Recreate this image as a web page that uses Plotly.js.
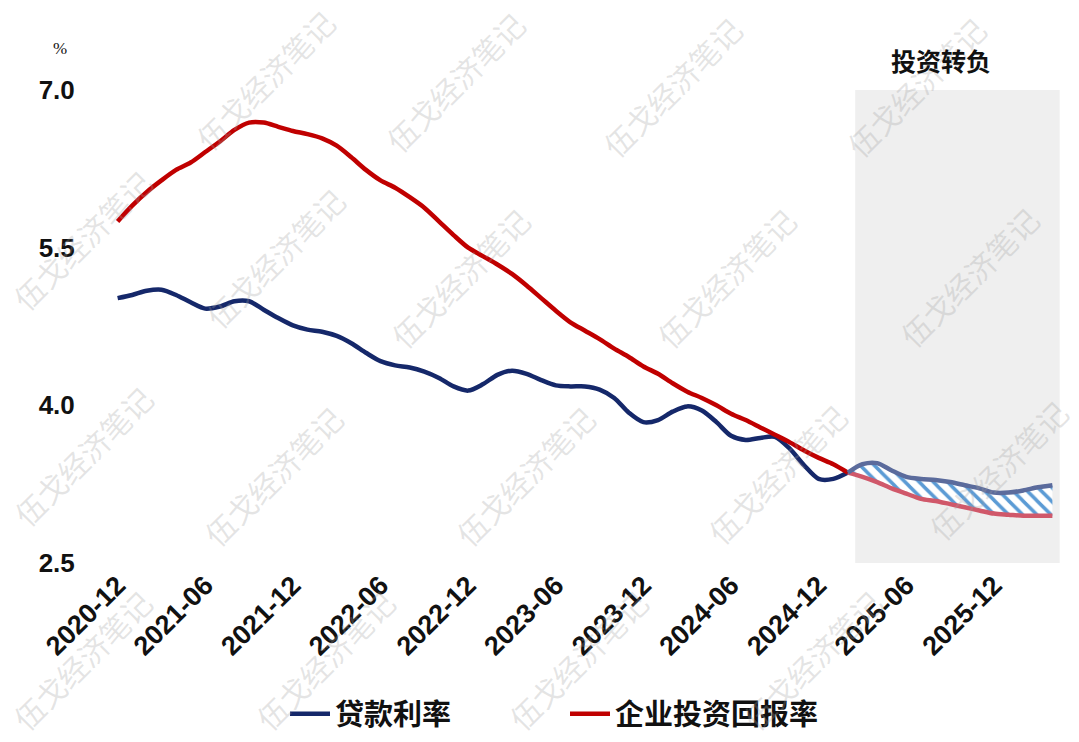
<!DOCTYPE html>
<html>
<head>
<meta charset="utf-8">
<script src="https://cdn.plot.ly/plotly-3.0.1.min.js"></script>
<style>
  html, body { margin: 0; padding: 0; background: #ffffff; }
  #chart { width: 1079px; height: 742px; }
</style>
</head>
<body>
<div id="chart"></div>
<script>
// ---- Data (monthly, 2020-12 to 2026-04) ----
const months = [
  '2020-12','2021-01','2021-02','2021-03','2021-04','2021-05','2021-06','2021-07','2021-08','2021-09','2021-10','2021-11',
  '2021-12','2022-01','2022-02','2022-03','2022-04','2022-05','2022-06','2022-07','2022-08','2022-09','2022-10','2022-11',
  '2022-12','2023-01','2023-02','2023-03','2023-04','2023-05','2023-06','2023-07','2023-08','2023-09','2023-10','2023-11',
  '2023-12','2024-01','2024-02','2024-03','2024-04','2024-05','2024-06','2024-07','2024-08','2024-09','2024-10','2024-11',
  '2024-12','2025-01','2025-02','2025-03','2025-04','2025-05','2025-06','2025-07','2025-08','2025-09','2025-10','2025-11',
  '2025-12','2026-01','2026-02','2026-03','2026-04'
];

// 贷款利率 (loan rate, %)
const loanRate = [
  5.02, 5.05, 5.09, 5.10, 5.05, 4.98, 4.92, 4.94, 4.99, 4.99, 4.91, 4.83,
  4.76, 4.72, 4.70, 4.66, 4.59, 4.50, 4.42, 4.38, 4.36, 4.32, 4.26, 4.18,
  4.14, 4.20, 4.29, 4.33, 4.30, 4.24, 4.19, 4.18, 4.18, 4.15, 4.07, 3.93,
  3.84, 3.86, 3.94, 3.99, 3.95, 3.84, 3.71, 3.67, 3.69, 3.70, 3.59, 3.43,
  3.30, 3.30, 3.36, 3.44, 3.45, 3.38, 3.32, 3.30, 3.29, 3.27, 3.24, 3.21,
  3.17, 3.17, 3.19, 3.22, 3.24
];

// 企业投资回报率 (corporate investment return, %)
const investReturn = [
  5.75, 5.90, 6.03, 6.14, 6.24, 6.31, 6.41, 6.51, 6.62, 6.69, 6.69, 6.65,
  6.61, 6.58, 6.54, 6.47, 6.36, 6.24, 6.14, 6.07, 5.98, 5.88, 5.75, 5.62,
  5.50, 5.42, 5.34, 5.25, 5.14, 5.02, 4.90, 4.79, 4.71, 4.63, 4.54, 4.46,
  4.37, 4.30, 4.21, 4.13, 4.07, 4.00, 3.92, 3.86, 3.79, 3.72, 3.65, 3.57,
  3.50, 3.44, 3.36, 3.32, 3.27, 3.21, 3.16, 3.11, 3.09, 3.06, 3.03, 3.00,
  2.97, 2.96, 2.95, 2.95, 2.95
];

const tickMonths = ['2020-12','2021-06','2021-12','2022-06','2022-12','2023-06','2023-12','2024-06','2024-12','2025-06','2025-12'];
const yTicks = [2.5, 4.0, 5.5, 7.0];
const yTickText = ['2.5', '4.0', '5.5', '7.0'];
const forecastStart = '2025-02';
const seriesNames = ['贷款利率', '企业投资回报率'];
const shadeLabel = '投资转负';
const unitLabel = '%';
const watermarkText = '伍戈经济笔记';

// ---- Build ----
const split = months.indexOf(forecastStart);
const histX = months.slice(0, split + 1);
const fcX = months.slice(split);

const traces = [
  { x: histX, y: loanRate.slice(0, split + 1), name: seriesNames[0], type: 'scatter', mode: 'lines',
    line: { color: '#15286a', width: 4.5, shape: 'spline', smoothing: 0.8 } },
  { x: histX, y: investReturn.slice(0, split + 1), name: seriesNames[1], type: 'scatter', mode: 'lines',
    line: { color: '#c00000', width: 4.5, shape: 'spline', smoothing: 0.8 } },
  { x: fcX, y: investReturn.slice(split), type: 'scatter', mode: 'lines', showlegend: false,
    line: { color: '#d0586a', width: 4.5, shape: 'spline', smoothing: 0.8 } },
  { x: fcX, y: loanRate.slice(split), type: 'scatter', mode: 'lines', showlegend: false,
    fill: 'tonexty', fillcolor: 'rgba(255,255,255,1)',
    fillpattern: { shape: '\\', fgcolor: '#5b9bd5', bgcolor: '#ffffff', size: 10, solidity: 0.35 },
    line: { color: '#5b6b9c', width: 4.5, shape: 'spline', smoothing: 0.8 } }
];

// plot area in pixels
const L = 103, R = 1067, T = 90, B = 563;
const px2x = p => (p - L) / (R - L);
const px2y = p => (B - p) / (B - T);

const wmPos = [
  [265, 80], [455, 82], [672, 87], [916, 87],
  [82, 240], [275, 258], [460, 278], [726, 278], [969, 277],
  [83, 456], [273, 476], [525, 476], [777, 474], [998, 470],
  [82, 660], [325, 660], [578, 660], [812, 660]
];

const annotations = wmPos.map(p => ({
  xref: 'paper', yref: 'paper', x: px2x(p[0]), y: px2y(p[1]),
  xanchor: 'center', yanchor: 'middle',
  text: watermarkText, showarrow: false, textangle: -45,
  font: { family: 'Noto Sans CJK SC', size: 30, color: 'rgba(160,160,160,0.28)' }
}));

annotations.push({
  xref: 'paper', yref: 'paper', x: px2x(941), y: px2y(60), xanchor: 'center', yanchor: 'middle',
  text: shadeLabel, showarrow: false,
  font: { family: 'Noto Sans CJK SC', size: 25, color: '#111111', weight: 'bold' }
});
annotations.push({
  xref: 'paper', yref: 'paper', x: px2x(60), y: px2y(48), xanchor: 'center', yanchor: 'middle',
  text: unitLabel, showarrow: false,
  font: { family: 'Liberation Serif', size: 17, color: '#111111' }
});

const layout = {
  width: 1079, height: 742,
  margin: { l: L, r: 1079 - R, t: T, b: 742 - B, autoexpand: false },
  paper_bgcolor: '#ffffff', plot_bgcolor: '#ffffff',
  showlegend: true,
  legend: {
    orientation: 'h', traceorder: 'normal', x: px2x(285), xanchor: 'left', y: px2y(714), yanchor: 'middle',
    font: { family: 'Noto Sans CJK SC', size: 29, color: '#111111', weight: 'bold' },
    itemwidth: 40, entrywidth: 225, bgcolor: 'rgba(0,0,0,0)'
  },
  xaxis: {
    type: 'category', range: [-1, 65], categoryorder: 'array', categoryarray: months,
    tickmode: 'array', tickvals: tickMonths, ticktext: tickMonths,
    tickangle: -45, ticks: '', automargin: false,
    showgrid: false, zeroline: false, showline: false,
    tickfont: { family: 'Liberation Sans', size: 27, color: '#111111', weight: 'bold' }
  },
  yaxis: {
    range: [2.5, 7.0], tickmode: 'array', tickvals: yTicks, ticktext: yTickText,
    ticks: 'outside', ticklen: 22, tickcolor: 'rgba(0,0,0,0)', automargin: false,
    showgrid: false, zeroline: false, showline: false,
    tickfont: { family: 'Liberation Sans', size: 26, color: '#111111', weight: 'bold' }
  },
  shapes: [{
    type: 'rect', xref: 'x', yref: 'paper', x0: split + 0.5, x1: months.length - 0.5, y0: 0, y1: 1,
    fillcolor: '#efefef', line: { width: 0 }, layer: 'below'
  }],
  annotations: annotations
};

Plotly.newPlot('chart', traces, layout, { displayModeBar: false, staticPlot: true });
</script>
</body>
</html>
